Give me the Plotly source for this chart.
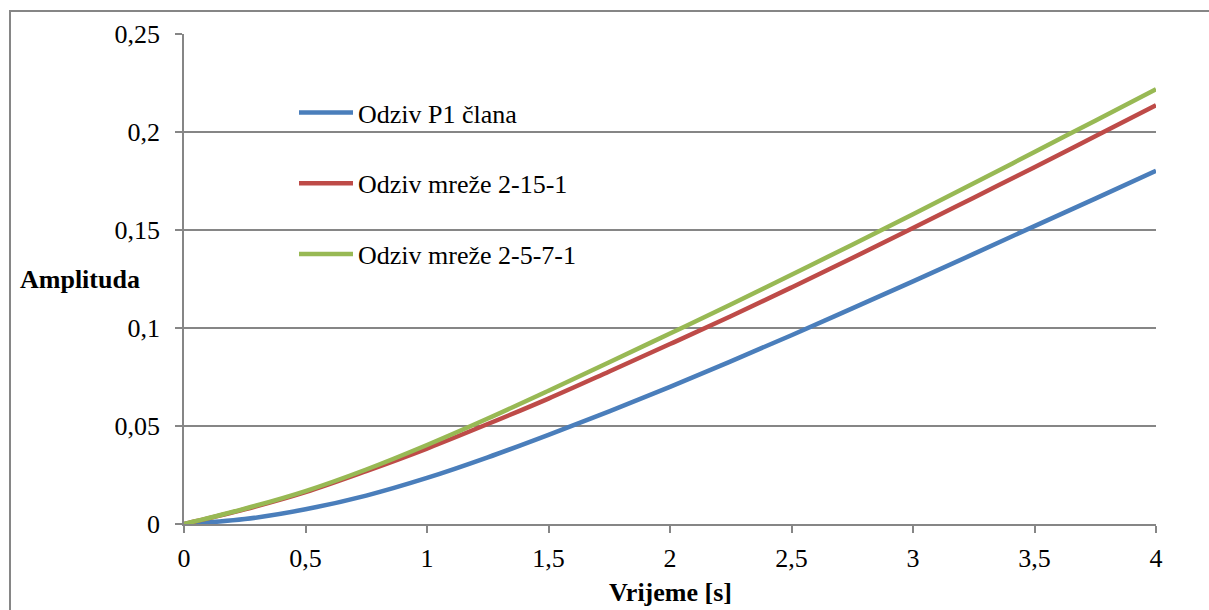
import plotly.graph_objects as go

# Time axis (s)
vrijeme = [0, 0.25, 0.5, 0.75, 1.0, 1.25, 1.5, 1.75, 2.0, 2.25, 2.5, 2.75, 3.0, 3.25, 3.5, 3.75, 4.0]

# Series values
odziv_p1 = [0, 0.0025, 0.0075, 0.0145, 0.0235, 0.034, 0.0455, 0.0575, 0.070, 0.083, 0.0963,
            0.110, 0.1238, 0.1378, 0.152, 0.166, 0.1802]
odziv_2_15_1 = [0, 0.0075, 0.0163, 0.027, 0.0385, 0.051, 0.064, 0.0778, 0.0918, 0.106, 0.1207,
                0.1357, 0.151, 0.1665, 0.182, 0.1978, 0.2136]
odziv_2_5_7_1 = [0, 0.0078, 0.0168, 0.0278, 0.0403, 0.0538, 0.068, 0.0825, 0.0972, 0.112, 0.1272,
                 0.1425, 0.158, 0.1738, 0.1898, 0.2058, 0.2218]

series_names = ["Odziv P1 člana", "Odziv mreže 2-15-1", "Odziv mreže 2-5-7-1"]
series_values = [odziv_p1, odziv_2_15_1, odziv_2_5_7_1]
series_colors = ["#4A7EBB", "#BE4B48", "#98B954"]

y_ticks = [0, 0.05, 0.1, 0.15, 0.2, 0.25]
x_ticks = [0, 0.5, 1, 1.5, 2, 2.5, 3, 3.5, 4]

FONT = "Liberation Serif"
FS = 26
GREY = "#868686"

fig = go.Figure()
for i, (name, vals, col) in enumerate(zip(series_names, series_values, series_colors)):
    fig.add_trace(go.Scatter(
        x=vrijeme, y=vals, name=name, mode="lines",
        line=dict(color=col, width=4.5, shape="spline", smoothing=1.0),
        legendgroup=f"g{i}",
    ))

W, H = 1209, 610
L, R, T, B = 184, 53, 34, 86
pw, ph = W - L - R, H - T - B

def px_x(p):
    return (p - L) / pw

def px_y(p):
    return (H - B - p) / ph

fig.update_layout(
    width=W, height=H,
    margin=dict(l=L, r=R, t=T, b=B, pad=0),
    paper_bgcolor="white", plot_bgcolor="white",
    separators=", ",
    font=dict(family=FONT, size=FS, color="black"),
    showlegend=True,
    legend=dict(
        x=px_x(294), y=px_y(89), xanchor="left", yanchor="top",
        bgcolor="rgba(0,0,0,0)", borderwidth=0,
        font=dict(family=FONT, size=FS, color="black"),
        tracegroupgap=34, itemwidth=54,
    ),
    xaxis=dict(
        range=[0, 4], tickvals=x_ticks, showgrid=False, zeroline=False,
        showline=True, linecolor=GREY, linewidth=1.5,
        ticks="outside", ticklen=7, tickcolor=GREY, tickwidth=1.5,
        ticklabelstandoff=3,
        tickfont=dict(family=FONT, size=FS, color="black"),
    ),
    yaxis=dict(
        range=[0, 0.25], tickvals=y_ticks, showgrid=True, gridcolor=GREY, gridwidth=1.5,
        zeroline=False, showline=True, linecolor=GREY, linewidth=1.5,
        ticks="outside", ticklen=7, tickcolor=GREY, tickwidth=1.5,
        ticklabelstandoff=10,
        tickfont=dict(family=FONT, size=FS, color="black"),
    ),
    annotations=[
        dict(text="<b>Amplituda</b>", xref="paper", yref="paper",
             x=px_x(18), y=px_y(279), xanchor="left", yanchor="middle", showarrow=False,
             font=dict(family=FONT, size=FS, color="black")),
        dict(text="<b>Vrijeme [s]</b>", xref="paper", yref="paper",
             x=px_x(670), y=px_y(592), xanchor="center", yanchor="middle", showarrow=False,
             font=dict(family=FONT, size=FS, color="black")),
    ],
    shapes=[
        dict(type="rect", xref="paper", yref="paper",
             x0=px_x(10), x1=px_x(1220), y0=px_y(625), y1=px_y(11),
             line=dict(color=GREY, width=2), fillcolor="rgba(0,0,0,0)", layer="below"),
    ],
)

fig.write_html("out.html", post_script="document.body.style.margin='0';",
               config={"displayModeBar": False})
